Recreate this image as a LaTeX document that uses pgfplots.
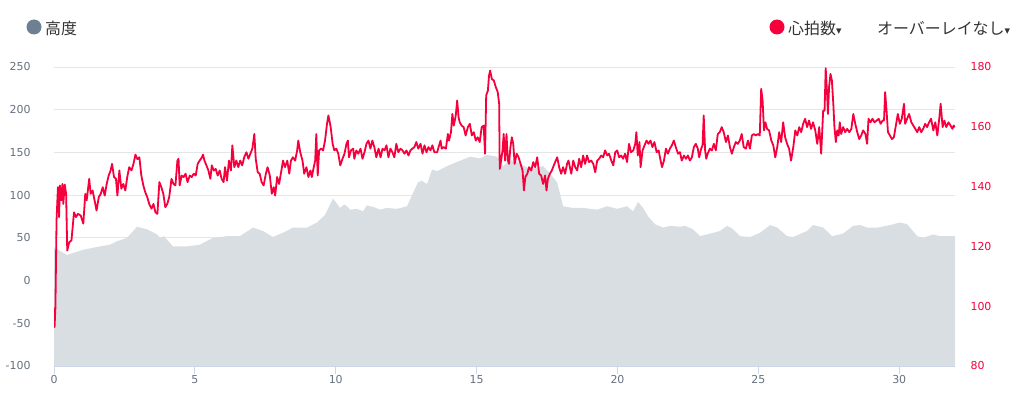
\documentclass[border=0pt]{standalone}
\usepackage{fontspec}
\usepackage{pgfplots}
\pgfplotsset{compat=1.18}
\setmainfont{DejaVu Sans}
\newfontfamily\jp{Noto Sans CJK JP}
\newfontfamily\dv{DejaVu Sans}
\definecolor{hr}{RGB}{245,0,61}
\definecolor{areac}{RGB}{217,222,226}
\definecolor{gridc}{RGB}{230,230,230}
\definecolor{axisc}{RGB}{204,214,235}
\definecolor{tickc}{RGB}{102,112,125}
\definecolor{dotc}{RGB}{108,128,145}
\definecolor{textc}{RGB}{51,51,51}
\pgfplotstableread{
x y
0 -100
0 39
0.46 30
1.03 36
1.63 40
1.99 42
2.24 46
2.59 50
2.95 63
3.30 60
3.66 54
3.76 50
3.90 52
4.22 40
4.72 40
5.18 42
5.64 50
6.14 52
6.60 52
7.06 62
7.42 58
7.77 51
8.13 56
8.48 62
8.98 62
9.34 68
9.62 77
9.80 89
9.90 96
10.00 92
10.15 85
10.30 89
10.40 87
10.51 83
10.75 84
10.97 81
11.10 88
11.22 87
11.35 86
11.57 83
11.80 85
12.18 84
12.53 87
12.71 100
12.92 115
13.05 117
13.24 113
13.42 130
13.60 128
13.95 134
14.31 139
14.77 145
15.12 143
15.37 147
15.73 145
15.94 134
16.19 141
16.44 139
16.90 130
17.36 134
17.61 125
17.86 115
18.07 87
18.42 85
18.78 85
19.28 83
19.63 87
19.99 84
20.34 87
20.55 81
20.73 92
20.91 85
21.09 75
21.33 66
21.62 62
21.87 64
22.22 63
22.40 64
22.68 60
22.93 52
23.29 55
23.64 58
23.89 64
24.07 61
24.35 52
24.71 51
25.06 56
25.42 65
25.67 62
26.02 52
26.23 51
26.73 58
26.94 65
27.30 62
27.62 52
28.01 55
28.36 64
28.61 65
28.86 62
29.22 62
29.68 65
30.03 68
30.28 66
30.64 52
30.85 50
31.20 54
31.45 52
31.98 52
31.98 -100
}\elev
\pgfplotstableread{
x y
0 99.5
0.02 93
0.05 99.5
0.09 128.7
0.12 135.4
0.14 139.8
0.18 129.8
0.21 140.4
0.26 135.4
0.30 140.9
0.33 134.2
0.38 140.7
0.43 137.6
0.47 118.6
0.54 121.4
0.62 122.0
0.71 131.4
0.78 129.8
0.85 130.9
0.95 130.3
1.04 127.6
1.11 137.6
1.16 135.4
1.25 142.6
1.30 137.6
1.37 138.7
1.44 135.4
1.51 132.0
1.59 136.5
1.66 137.6
1.73 139.8
1.80 137.0
1.87 140.9
1.94 143.7
2.01 145.4
2.06 147.6
2.13 143.2
2.20 142.6
2.25 137.0
2.32 145.4
2.39 139.3
2.46 140.9
2.53 138.7
2.60 143.2
2.67 146.5
2.75 145.4
2.82 147.6
2.89 150.7
2.96 149.2
3.03 149.8
3.10 143.7
3.17 140.4
3.24 138.1
3.31 136.5
3.38 134.2
3.46 132.6
3.53 134.2
3.60 131.4
3.67 130.9
3.74 141.5
3.81 139.8
3.88 137.6
3.95 133.1
4.02 134.2
4.09 136.5
4.17 142.6
4.24 140.9
4.31 140.4
4.38 148.7
4.42 149.3
4.46 140.4
4.53 143.7
4.60 143.2
4.67 144.3
4.74 141.5
4.82 143.7
4.89 143.2
4.96 144.3
5.03 143.7
5.10 147.6
5.17 148.7
5.25 149.8
5.29 150.7
5.34 148.7
5.41 147.1
5.48 145.4
5.55 142.6
5.60 147.1
5.67 145.4
5.74 145.9
5.81 143.7
5.88 145.4
5.95 142.6
6.02 141.5
6.07 146.5
6.14 142.0
6.21 148.7
6.28 145.4
6.33 153.8
6.40 146.5
6.47 148.7
6.54 146.5
6.61 148.7
6.68 147.1
6.75 149.8
6.83 151.5
6.90 149.3
6.97 151.0
7.04 152.7
7.11 157.6
7.16 149.3
7.23 144.8
7.30 144.3
7.37 141.5
7.44 140.4
7.52 144.3
7.58 146.5
7.66 143.7
7.73 137.6
7.80 139.8
7.85 137.0
7.92 143.2
7.99 140.9
8.06 144.8
8.13 148.7
8.20 146.5
8.28 148.7
8.35 144.3
8.41 148.7
8.48 149.8
8.56 148.7
8.63 152.1
8.67 155.4
8.74 151.5
8.82 148.7
8.88 144.3
8.96 146.5
9.03 143.2
9.10 145.4
9.15 143.2
9.22 146.5
9.27 148.7
9.31 157.6
9.36 143.7
9.41 152.1
9.48 152.7
9.55 152.1
9.62 155.4
9.69 161.0
9.74 163.8
9.82 159.9
9.89 154.3
9.95 152.1
10.02 152.7
10.09 151.0
10.16 147.1
10.24 149.3
10.31 151.0
10.38 154.3
10.43 155.4
10.47 149.8
10.54 152.1
10.62 152.7
10.66 149.3
10.73 152.1
10.80 151.0
10.88 152.7
10.95 149.3
11.02 151.5
11.09 154.3
11.16 155.4
11.23 152.7
11.30 155.4
11.37 153.2
11.44 149.8
11.52 152.7
11.59 149.8
11.66 152.7
11.73 152.1
11.80 153.8
11.87 149.8
11.94 152.7
12.01 151.5
12.08 149.8
12.15 154.3
12.22 151.5
12.30 152.7
12.37 152.1
12.44 151.0
12.51 152.1
12.58 150.4
12.65 152.1
12.72 152.7
12.79 153.2
12.86 154.9
12.93 152.7
13.01 154.3
13.08 151.0
13.15 153.8
13.22 151.5
13.29 153.2
13.36 152.1
13.43 153.8
13.50 151.5
13.60 151.5
13.65 153.2
13.72 155.4
13.76 152.7
13.83 153.2
13.91 152.7
13.98 157.6
14.02 155.4
14.09 158.2
14.14 164.3
14.19 160.4
14.26 163.8
14.31 168.8
14.36 163.2
14.40 161.5
14.47 160.4
14.54 159.9
14.61 157.1
14.69 159.9
14.76 161.0
14.83 157.1
14.90 158.2
14.97 155.4
15.04 156.5
15.11 154.9
15.18 159.9
15.25 160.4
15.30 151.0
15.34 170.5
15.40 172.1
15.44 177.1
15.48 178.8
15.54 176.0
15.61 175.5
15.68 173.3
15.75 171.6
15.80 167.7
15.82 145.9
15.87 148.7
15.92 152.1
15.96 157.6
16.01 148.7
16.06 157.6
16.11 148.7
16.15 147.6
16.20 153.2
16.25 156.5
16.30 154.3
16.35 147.6
16.42 151.0
16.49 149.8
16.56 147.6
16.63 145.4
16.68 138.7
16.73 143.2
16.80 144.3
16.86 146.5
16.94 145.4
17.01 148.2
17.08 146.5
17.15 149.8
17.22 144.3
17.29 143.7
17.36 140.9
17.43 143.7
17.48 138.7
17.53 142.6
17.60 144.3
17.67 145.4
17.74 147.1
17.81 148.7
17.86 149.8
17.93 146.5
18.00 144.3
18.07 146.5
18.14 144.3
18.21 147.6
18.26 148.7
18.36 144.3
18.43 148.7
18.50 146.5
18.57 145.4
18.64 149.3
18.71 146.5
18.78 150.4
18.85 147.6
18.92 150.4
18.99 148.2
19.07 148.7
19.14 147.6
19.21 144.8
19.28 148.7
19.35 149.3
19.42 150.4
19.49 149.8
19.56 152.1
19.64 150.4
19.70 151.0
19.78 148.7
19.85 147.1
19.92 151.5
19.99 152.1
20.06 149.8
20.13 150.4
20.20 149.3
20.27 151.0
20.34 148.2
20.41 154.3
20.48 151.5
20.56 152.1
20.63 154.3
20.67 158.2
20.72 150.4
20.78 154.9
20.82 146.5
20.89 152.1
20.96 153.8
21.03 155.4
21.10 154.3
21.17 155.4
21.24 153.2
21.31 154.9
21.39 151.5
21.46 152.1
21.53 148.7
21.58 146.5
21.65 148.7
21.72 152.7
21.79 151.0
21.86 152.7
21.93 153.8
22.00 155.4
22.07 153.2
22.15 151.0
22.22 151.5
22.28 148.7
22.36 150.4
22.43 149.3
22.50 150.4
22.57 148.7
22.64 149.8
22.71 153.2
22.78 154.3
22.85 152.7
22.90 149.8
22.97 152.7
23.02 153.8
23.06 163.8
23.11 152.1
23.15 149.3
23.20 151.0
23.28 152.7
23.35 152.1
23.42 154.3
23.49 152.1
23.56 157.6
23.63 158.2
23.70 159.9
23.77 158.2
23.85 154.9
23.92 157.1
23.99 153.2
24.06 151.0
24.13 153.2
24.20 154.9
24.27 154.3
24.34 155.4
24.41 157.6
24.48 153.2
24.56 152.7
24.63 155.4
24.70 152.7
24.77 157.1
24.84 157.6
24.91 157.1
24.98 157.6
25.05 157.1
25.10 172.7
25.15 168.8
25.20 158.8
25.25 161.5
25.31 159.3
25.38 158.8
25.46 155.4
25.53 153.8
25.60 149.8
25.67 153.2
25.74 158.2
25.81 154.9
25.88 161.5
25.95 156.5
26.02 154.3
26.09 152.7
26.16 148.7
26.24 153.2
26.31 158.8
26.38 157.1
26.45 159.9
26.52 158.2
26.59 161.0
26.66 162.7
26.73 159.9
26.80 162.1
26.87 159.3
26.94 161.5
27.02 158.8
27.09 154.3
27.16 159.9
27.23 151.0
27.30 165.4
27.35 165.4
27.39 179.6
27.44 171.0
27.47 164.3
27.51 173.3
27.56 177.7
27.61 175.5
27.66 167.7
27.70 159.9
27.75 154.9
27.80 158.8
27.85 157.1
27.89 161.5
27.94 157.6
28.01 159.9
28.08 158.2
28.15 159.3
28.23 158.2
28.30 159.3
28.37 164.3
28.44 161.0
28.51 158.2
28.58 155.9
28.65 157.1
28.72 158.8
28.80 157.6
28.86 154.3
28.91 162.7
28.98 161.5
29.05 162.7
29.12 161.5
29.20 162.1
29.27 162.7
29.34 161.0
29.41 162.1
29.46 162.1
29.50 171.6
29.55 165.4
29.60 158.2
29.67 157.1
29.74 155.9
29.81 156.5
29.88 160.4
29.95 164.3
30.02 161.0
30.09 162.7
30.17 167.7
30.21 161.0
30.28 162.7
30.35 164.3
30.43 161.5
30.50 160.4
30.57 159.3
30.64 158.2
30.71 159.9
30.78 158.2
30.85 159.3
30.92 161.0
30.99 159.9
31.06 161.5
31.13 162.7
31.21 158.8
31.28 161.5
31.35 157.1
31.42 162.7
31.47 167.7
31.54 159.9
31.60 162.1
31.67 159.9
31.75 161.5
31.82 160.4
31.89 159.3
31.93 160.4
31.98 159.9
}\hrdata
\begin{document}
\begin{tikzpicture}[x=1bp,y=1bp]
\useasboundingbox (0,0) rectangle (1024,395);
\pgfplotsset{
  /pgf/number format/assume math mode=true,
  /pgf/number format/1000 sep={},
}
\begin{axis}[
  at={(54bp,29bp)}, anchor=south west,
  scale only axis, width=901bp, height=299bp,
  xmin=0, xmax=31.98, ymin=-100, ymax=250,
  axis x line*=bottom, axis y line*=left,
  x axis line style={color=axisc, line width=0.8bp, -},
  y axis line style={draw=none},
  xtick={0,5,...,30}, ytick={-100,-50,...,250},
  ymajorgrids, grid style={color=gridc, line width=0.8bp},
  ytick style={draw=none},
  xtick style={color=axisc, line width=0.8bp},
  tick align=outside, major tick length=8bp,
  xticklabel style={font=\fontsize{11}{13}\selectfont, text=tickc, yshift=2bp},
  yticklabel style={font=\fontsize{11}{13}\selectfont, text=tickc, anchor=east, xshift=-12bp},
  clip=false,
]
\addplot[fill=areac, draw=none] table {\elev};
\end{axis}
\begin{axis}[
  at={(54bp,29bp)}, anchor=south west,
  scale only axis, width=901bp, height=299bp,
  xmin=0, xmax=31.98, ymin=80, ymax=180,
  axis x line=none, axis y line*=right,
  y axis line style={draw=none},
  ytick={80,100,...,180}, ytick style={draw=none},
  yticklabel style={font=\fontsize{11}{13}\selectfont, text=hr, anchor=west, xshift=12bp},
]
\addplot[hr, line width=1.8bp, line join=round] table {\hrdata};
\end{axis}
\fill[dotc] (34,368) circle (7.5);
\node[anchor=west, inner sep=0, text=textc, font=\jp\fontsize{16}{18}\selectfont] at (45,367) {高度};
\fill[hr] (777,368) circle (7.5);
\node[anchor=west, inner sep=0, text=textc, font=\jp\fontsize{16}{18}\selectfont] at (788,367) {心拍数{\dv\fontsize{11}{12}\selectfont ▾}};
\node[anchor=west, inner sep=0, text=textc, font=\jp\fontsize{16}{18}\selectfont] at (877,367) {オーバーレイなし{\dv\fontsize{11}{12}\selectfont ▾}};
\end{tikzpicture}
\end{document}
